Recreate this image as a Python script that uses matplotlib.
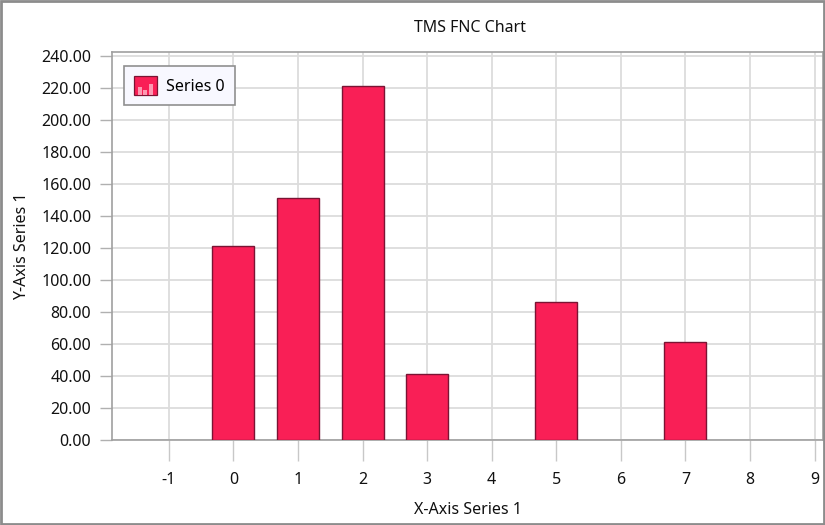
import matplotlib
matplotlib.use("Agg")
import matplotlib.pyplot as plt
from matplotlib.patches import Rectangle
from matplotlib.legend_handler import HandlerBase

plt.rcParams["font.family"] = ["Noto Sans", "DejaVu Sans"]
plt.rcParams["axes.unicode_minus"] = False

# data
categories = [0, 1, 2, 3, 5, 7]
values = [121, 151, 221, 41, 86, 61]
x_ticks = list(range(-1, 10))
y_ticks = list(range(0, 241, 20))

BAR_FACE = "#f91f56"
BAR_EDGE = "#7a1433"
GRID = "#dcdcdc"


class BarIconHandler(HandlerBase):
    """Small bar-chart glyph for the legend entry."""

    def create_artists(self, legend, orig_handle, xdescent, ydescent,
                       width, height, fontsize, trans):
        w = width
        h = height * 0.95
        x0 = -xdescent
        y0 = -ydescent + (height - h) / 2
        arts = [Rectangle((x0, y0), w, h, facecolor=BAR_FACE,
                          edgecolor=BAR_EDGE, lw=0.9, transform=trans)]
        for frac_x, frac_h in [(0.18, 0.45), (0.42, 0.28), (0.66, 0.6)]:
            arts.append(Rectangle((x0 + frac_x * w, y0), w * 0.16, h * frac_h,
                                  facecolor="#ffffff", edgecolor="none",
                                  alpha=0.55, transform=trans))
        return arts


fig = plt.figure(figsize=(8.25, 5.25), dpi=100)
ax = fig.add_axes([112 / 825, 1 - 440 / 525, 711 / 825, 388 / 525])

ax.bar(categories, values, width=0.65, color=BAR_FACE, edgecolor=BAR_EDGE,
       linewidth=1.0, zorder=3, label="Series 0")

ax.set_xlim(-1.88, 9.13)
ax.set_ylim(0, 242.5)
ax.set_xticks(x_ticks)
ax.set_yticks(y_ticks)
ax.set_yticklabels([f"{v:.2f}" for v in y_ticks])
ax.grid(True, color=GRID, linewidth=1.3, zorder=0)
ax.set_axisbelow(True)

ax.tick_params(axis="x", length=15, width=1, color="#c8c8c8", pad=8,
               labelsize=11.5, labelcolor="#111111")
ax.tick_params(axis="y", length=9, width=1, color="#b0b0b0", pad=6,
               labelsize=11.5, labelcolor="#111111")

for side in ["left", "top", "right", "bottom"]:
    ax.spines[side].set_color("#a0a0a0")
    ax.spines[side].set_linewidth(1.2)

ax.set_xlabel("X-Axis Series 1", fontsize=11.5, color="#111111", labelpad=10)
ax.set_ylabel("Y-Axis Series 1", fontsize=11.5, color="#111111", labelpad=8)
fig.text(470 / 825, 1 - 28 / 525, "TMS FNC Chart",
         fontsize=11.5, color="#111111", ha="center", va="center")

leg = ax.legend(handler_map={matplotlib.container.BarContainer: BarIconHandler()},
                loc="upper left", bbox_to_anchor=(0.017, 0.964),
                borderaxespad=0, fontsize=11.5, frameon=True, fancybox=False,
                handlelength=1.45, handleheight=1.55, handletextpad=0.6,
                borderpad=0.6)
leg.get_frame().set_facecolor("#f8f8ff")
leg.get_frame().set_edgecolor("#909090")
leg.get_frame().set_linewidth(1.2)
leg.get_frame().set_alpha(1)

# outer chart border
fig.patches.append(Rectangle((0.001, 0.001), 0.998, 0.997, transform=fig.transFigure,
                             fill=False, edgecolor="#8c8c8c", linewidth=2.0))

fig.savefig("out.png", dpi=100, facecolor="white")
